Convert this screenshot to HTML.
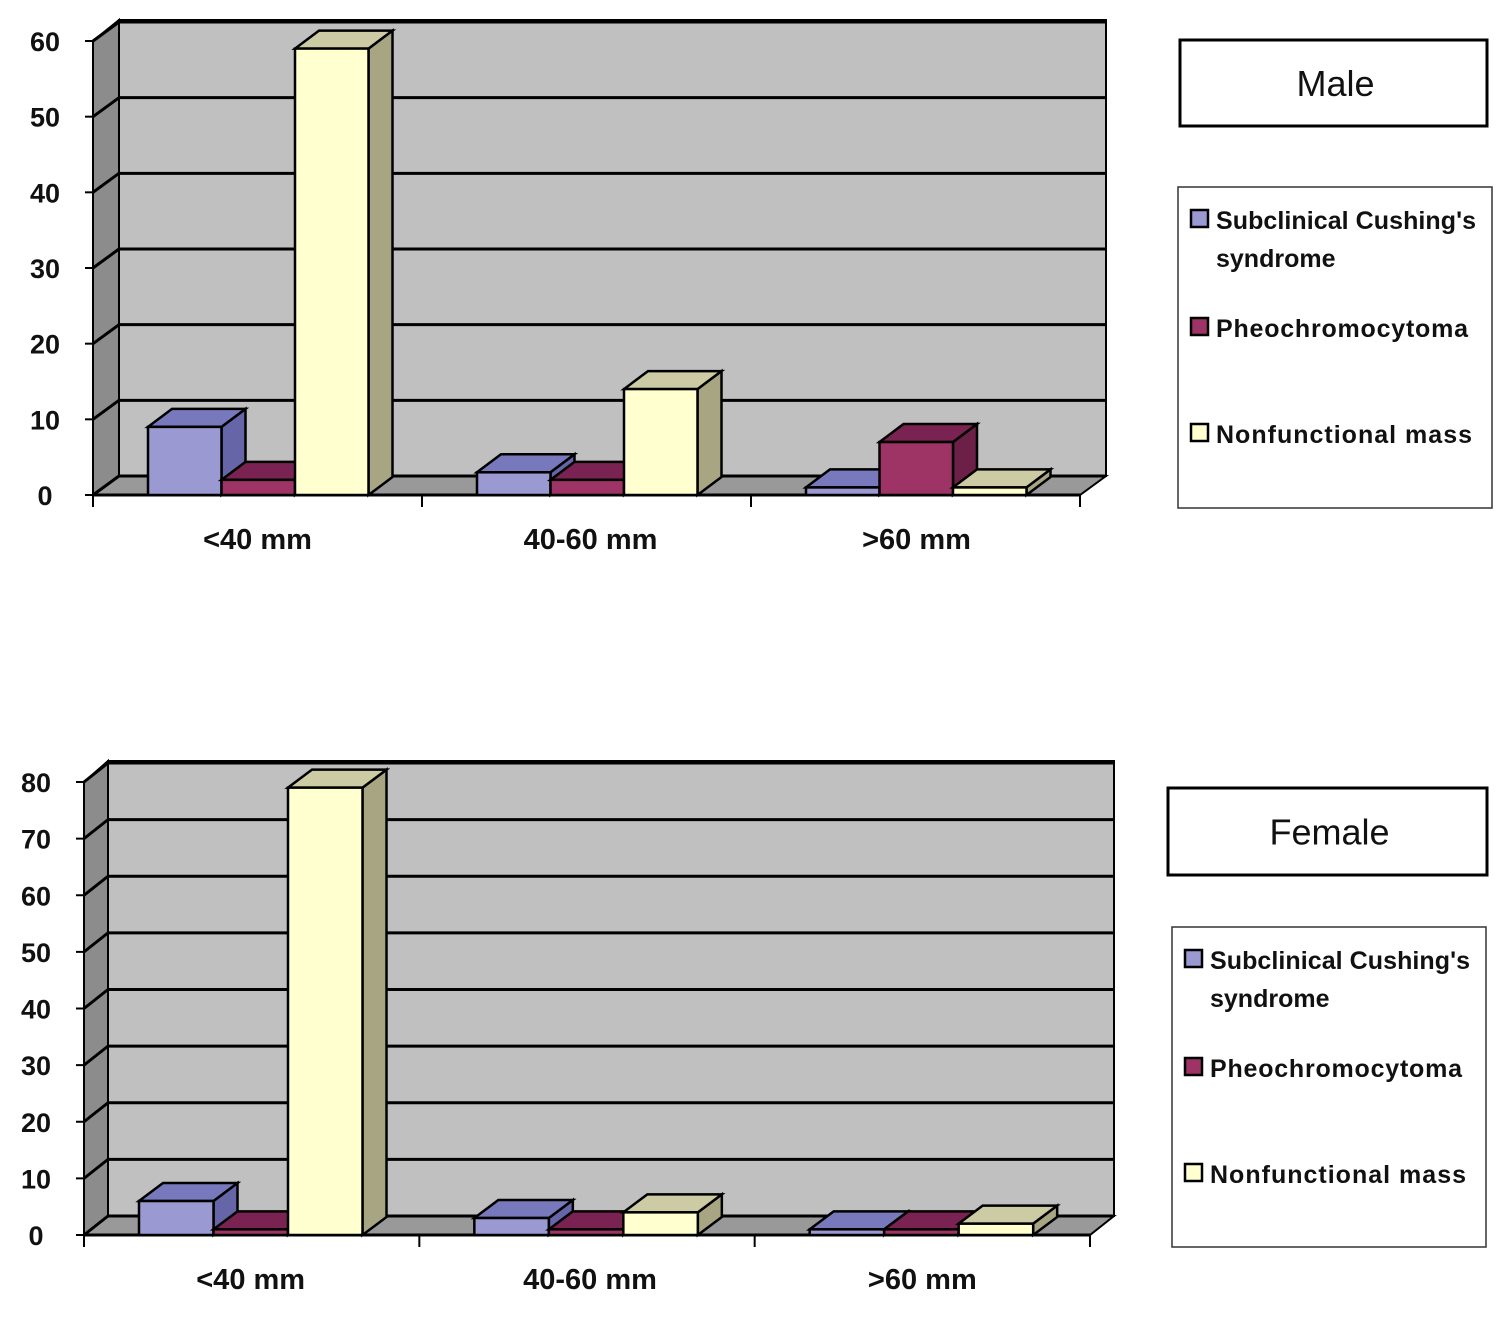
<!DOCTYPE html>
<html><head><style>
body{margin:0;background:#fff;width:1500px;height:1317px;overflow:hidden}
svg{position:absolute;left:0;top:0}
text{font-family:"Liberation Sans",sans-serif;font-weight:bold;fill:#111}
</style></head><body>
<svg id="s" width="1500" height="1317" xmlns="http://www.w3.org/2000/svg"></svg>
<script>
const S=document.getElementById('s');let h='';
function chart(o){
 const {fx,fy,fr,top,max,step,dx,dy,data,gs}=o;
 const sc=(fy-top)/max;
 const bx=fx+dx,by=fy+dy,br=fr+dx;
 h+=`<polygon points="${fx},${fy} ${bx},${by} ${bx},${by-max*sc-2} ${fx},${top}" fill="#8c8c8c" stroke="#000" stroke-width="2"/>`;
 h+=`<rect x="${bx}" y="${by-max*sc-2}" width="${br-bx}" height="${max*sc+2}" fill="#c0c0c0" stroke="#000" stroke-width="2"/>`;
 h+=`<polygon points="${fx},${fy} ${bx},${by} ${br},${by} ${fr},${fy}" fill="#999" stroke="#000" stroke-width="2"/>`;
 for(let v=0;v<=max;v+=step){const yb=by-v*sc,yf=fy-v*sc;
  h+=`<line x1="${bx}" y1="${yb}" x2="${br}" y2="${yb}" stroke="#000" stroke-width="3"/>`;
  h+=`<line x1="${fx}" y1="${yf}" x2="${bx}" y2="${yb}" stroke="#000" stroke-width="3"/>`;
  h+=`<line x1="${fx-8}" y1="${yf}" x2="${fx}" y2="${yf}" stroke="#000" stroke-width="2"/>`;
  h+=`<text x="${fx-48}" y="${yf+10}" font-size="27" text-anchor="middle">${v}</text>`;}
 h+=`<line x1="${fx}" y1="${fy}" x2="${fx}" y2="${top}" stroke="#000" stroke-width="2"/>`;
 h+=`<line x1="${fx}" y1="${fy}" x2="${fr}" y2="${fy}" stroke="#000" stroke-width="3"/>`;
 const cw=(fr-fx)/3, cols=[["#9a99d2","#7878bd","#6565a8"],["#9e3366","#7a2252","#6c1f47"],["#ffffcf","#cdcba3","#a8a682"]];
 const labs=["<40 mm","40-60 mm",">60 mm"];
 for(let g=0;g<3;g++){
  h+=`<line x1="${fx+cw*(g+1)}" y1="${fy}" x2="${fx+cw*(g+1)}" y2="${fy+12}" stroke="#000" stroke-width="2"/>`;
  h+=`<line x1="${fx}" y1="${fy}" x2="${fx}" y2="${fy+12}" stroke="#000" stroke-width="2"/>`;
  h+=`<text x="${fx+cw*g+cw/2-8+gs[g]}" y="${fy+54}" font-size="29" text-anchor="middle">${labs[g].replace('<','&lt;').replace('>','&gt;')}</text>`;
  for(let i=0;i<3;i++){
   const v=data[g][i],x=fx+cw*g+55+i*o.bw,w=o.bw,yt=fy-v*sc,c=cols[i],ddx=o.bdx,ddy=o.bdy;
   h+=`<polygon points="${x+w},${fy} ${x+w+ddx},${fy+ddy} ${x+w+ddx},${yt+ddy} ${x+w},${yt}" fill="${c[2]}" stroke="#000" stroke-width="2.5"/>`;
   h+=`<polygon points="${x},${yt} ${x+ddx},${yt+ddy} ${x+w+ddx},${yt+ddy} ${x+w},${yt}" fill="${c[1]}" stroke="#000" stroke-width="2.5"/>`;
   h+=`<rect x="${x}" y="${yt}" width="${w}" height="${fy-yt}" fill="${c[0]}" stroke="#000" stroke-width="2.5"/>`;
  }}
}
chart({fx:93,fy:495,fr:1080,top:41,max:60,step:10,dx:26,dy:-19,bw:73.5,bdx:24,bdy:-18,gs:[8,12,9],data:[[9,2,59],[3,2,14],[1,7,1]]});
chart({fx:84,fy:1235,fr:1090,top:782,max:80,step:10,dx:24,dy:-19,bw:74.5,bdx:24,bdy:-18,gs:[7,11,8],data:[[6,1,79],[3,1,4],[1,1,2]]});
function legend(t,tx,ty,tw,th,lx,ly,lw,lh){
 h+=`<rect x="${tx}" y="${ty}" width="${tw}" height="${th}" fill="#fff" stroke="#000" stroke-width="3"/>`;
 h+=`<text x="${tx+tw/2+2}" y="${ty+th/2+13}" font-size="36" text-anchor="middle" style="font-weight:normal">${t}</text>`;
 h+=`<rect x="${lx}" y="${ly}" width="${lw}" height="${lh}" fill="#fff" stroke="#333" stroke-width="1.5"/>`;
 const it=[["#9a99d2",34,"Subclinical Cushing's"],["#9e3366",142,"Pheochromocytoma"],["#ffffcf",248,"Nonfunctional mass"]];
 it.forEach(([c,dy,s])=>{h+=`<rect x="${lx+13}" y="${ly+dy-11}" width="17" height="17" fill="${c}" stroke="#000" stroke-width="2.5"/>`;
  h+=`<text x="${lx+38}" y="${ly+dy+8}" font-size="25" textLength="${s.length>19?260:s.length>17?256:252}">${s}</text>`;});
 h+=`<text x="${lx+38}" y="${ly+80}" font-size="25">syndrome</text>`;
}
legend("Male",1180,40,307,86,1178,187,314,321);
legend("Female",1168,788,319,87,1172,927,314,320);
S.innerHTML=h;
</script>
</body></html>
